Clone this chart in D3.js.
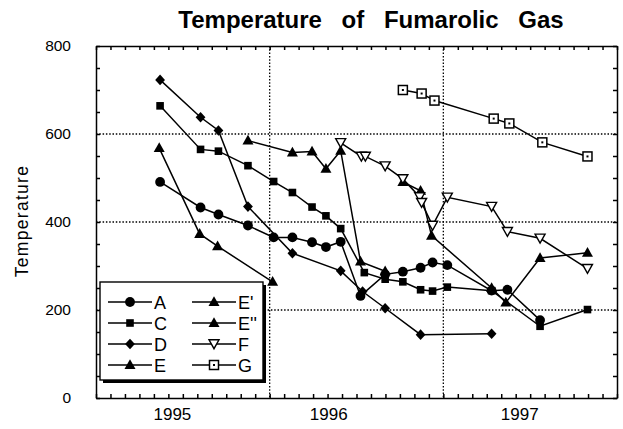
<!DOCTYPE html>
<head>
	<meta charset="utf-8" />
	<style>
		body {
			margin: 0;
			background-color: #fff;
			font-family: 'Liberation Sans', Arial, sans-serif;
		}
		.axis path,
		.axis line {
			stroke: #000;
			stroke-width: 1.5;
		}
		.grid line {
			stroke: #000;
			stroke-width: 1.3;
			stroke-dasharray: 1.5, 1.8;
		}
	</style>
</head>

<body>
	<svg id="chart" width="623" height="429"></svg>

	<script src="https://cdnjs.cloudflare.com/ajax/libs/d3/7.8.5/d3.min.js"></script>
	<script>
		// series values: [decimal year, temperature]
		const seriesA = [
			[1995.369, 491], [1995.602, 433], [1995.705, 417], [1995.875, 392],
			[1996.023, 365], [1996.131, 365], [1996.244, 354], [1996.324, 343],
			[1996.409, 355], [1996.523, 232], [1996.665, 281], [1996.767, 287],
			[1996.869, 296], [1996.938, 308], [1997.023, 302], [1997.278, 244],
			[1997.369, 246], [1997.557, 177],
		];
		const seriesC = [
			[1995.369, 664], [1995.602, 565], [1995.705, 561], [1995.875, 528],
			[1996.023, 492], [1996.131, 467], [1996.244, 434], [1996.324, 414],
			[1996.409, 385], [1996.545, 285], [1996.665, 270], [1996.767, 264],
			[1996.869, 246], [1996.938, 243], [1997.023, 252], [1997.278, 244],
			[1997.557, 163], [1997.83, 201],
		];
		const seriesD = [
			[1995.369, 723], [1995.602, 638], [1995.705, 608], [1995.875, 435],
			[1996.131, 329], [1996.409, 289], [1996.535, 242], [1996.665, 204],
			[1996.869, 144], [1997.278, 146],
		];
		const seriesE = [
			[1995.364, 568], [1995.597, 373], [1995.7, 345], [1996.017, 264],
		];
		const seriesE1 = [
			[1995.875, 585], [1996.131, 558], [1996.244, 560], [1996.324, 521],
			[1996.409, 562], [1996.523, 310], [1996.665, 288],
		];
		const seriesE2 = [
			[1996.767, 491], [1996.869, 471], [1996.932, 369], [1997.278, 250],
			[1997.36, 217], [1997.557, 318], [1997.83, 330],
		];
		const seriesF = [
			[1996.409, 580], [1996.528, 549], [1996.551, 549], [1996.665, 527],
			[1996.767, 498], [1996.864, 457], [1996.875, 444], [1996.938, 392],
			[1997.023, 456], [1997.278, 435], [1997.369, 378], [1997.557, 363],
			[1997.83, 294],
		];
		const seriesG = [
			[1996.767, 700], [1996.875, 692], [1996.949, 676], [1997.29, 635],
			[1997.38, 624], [1997.57, 581], [1997.83, 549],
		];

		const names = ['A', 'C', 'D', 'E', "E'", "E''", 'F', 'G'];
		const values = [seriesA, seriesC, seriesD, seriesE, seriesE1, seriesE2, seriesF, seriesG];
		const shapes = ['circle', 'square', 'diamond', 'triangle', 'triangle', 'triangle', 'down', 'box'];

		const yearLabels = ['1995', '1996', '1997'];
		const yearLabelAt = [1995.44, 1996.34, 1997.44];
		const yTicks = [0, 200, 400, 600, 800];

		const margin = { top: 46, right: 6, bottom: 31, left: 96 };
		const width = 623 - margin.left - margin.right;
		const height = 429 - margin.top - margin.bottom;

		const x = d3.scaleLinear().domain([1995, 1998]).range([0, width]);
		const y = d3.scaleLinear().domain([0, 800]).range([height, 0]);

		const svg = d3.select('#chart');
		const g = svg.append('g').attr('transform', `translate(${margin.left},${margin.top})`);

		// dotted grid
		const grid = g.append('g').attr('class', 'grid');
		grid.selectAll('.gy')
			.data([200, 400, 600])
			.join('line')
			.attr('x1', 0)
			.attr('x2', width)
			.attr('y1', d => y(d))
			.attr('y2', d => y(d));
		grid.selectAll('.gx')
			.data([1996, 1997])
			.join('line')
			.attr('class', 'gx')
			.attr('x1', d => x(d))
			.attr('x2', d => x(d))
			.attr('y1', 0)
			.attr('y2', height);

		// frame with inward ticks
		const months = d3.range(0, 37).map(i => 1995 + i / 12);
		const fifties = d3.range(0, 801, 50);

		g.append('g')
			.attr('class', 'axis')
			.attr('transform', `translate(0,${height})`)
			.call(d3.axisBottom(x).tickValues(months).tickSize(-4).tickSizeOuter(0).tickFormat(''));
		g.append('g')
			.attr('class', 'axis')
			.call(d3.axisTop(x).tickValues(months).tickSize(-4).tickSizeOuter(0).tickFormat(''));
		g.append('g')
			.attr('class', 'axis')
			.attr('transform', `translate(${width},0)`)
			.call(d3.axisRight(y).tickValues(fifties).tickSize(-4).tickSizeOuter(0).tickFormat(''));
		const yAxis = g.append('g')
			.attr('class', 'axis')
			.call(
				d3.axisLeft(y)
					.tickValues(fifties)
					.tickSize(-4)
					.tickSizeOuter(0)
					.tickPadding(25)
					.tickFormat(d => (yTicks.includes(d) ? d : ''))
			);
		yAxis.selectAll('text')
			.attr('font-family', "'Liberation Sans', Arial, sans-serif")
			.attr('font-size', 15.5)
			.attr('fill', '#000');

		g.selectAll('.xlab')
			.data(yearLabels)
			.join('text')
			.attr('class', 'xlab')
			.attr('x', (d, i) => x(yearLabelAt[i]))
			.attr('y', height + 22)
			.attr('text-anchor', 'middle')
			.attr('font-size', 17)
			.text(d => d);

		// titles
		svg.append('text')
			.attr('x', 371)
			.attr('y', 28)
			.attr('text-anchor', 'middle')
			.attr('font-size', 24)
			.attr('font-weight', 'bold')
			.attr('word-spacing', 13)
			.text('Temperature of Fumarolic Gas');

		svg.append('text')
			.attr('transform', 'translate(28,221) rotate(-90)')
			.attr('text-anchor', 'middle')
			.attr('font-size', 17.5)
			.attr('letter-spacing', 1.3)
			.text('Temperature');

		// marker drawing
		function drawMarker(sel, shape) {
			if (shape === 'circle') {
				sel.append('circle').attr('r', 4.9).attr('fill', '#000');
			} else if (shape === 'square') {
				sel.append('rect').attr('x', -3.8).attr('y', -3.8).attr('width', 7.6).attr('height', 7.6).attr('fill', '#000');
			} else if (shape === 'diamond') {
				sel.append('path').attr('d', 'M0,-5.3L4.9,0L0,5.3L-4.9,0Z').attr('fill', '#000');
			} else if (shape === 'triangle') {
				sel.append('path').attr('d', 'M0,-5.8L5.5,4L-5.5,4Z').attr('fill', '#000');
			} else if (shape === 'down') {
				sel.append('path')
					.attr('d', 'M-5,-4.2L5,-4.2L0,4.7Z')
					.attr('fill', '#fff')
					.attr('stroke', '#000')
					.attr('stroke-width', 1.4);
			} else if (shape === 'box') {
				sel.append('rect')
					.attr('x', -4.5).attr('y', -4.5).attr('width', 9).attr('height', 9)
					.attr('fill', '#fff')
					.attr('stroke', '#000')
					.attr('stroke-width', 1.5);
				sel.append('rect').attr('x', -1).attr('y', -1).attr('width', 2).attr('height', 2).attr('fill', '#000');
			}
		}

		const line = d3.line().x(d => x(d[0])).y(d => y(d[1]));

		values.forEach(data => {
			g.append('path')
				.datum(data)
				.attr('fill', 'none')
				.attr('stroke', '#000')
				.attr('stroke-width', 1.5)
				.attr('d', line);
		});
		values.forEach((data, i) => {
			g.selectAll(null)
				.data(data)
				.join('g')
				.attr('transform', d => `translate(${x(d[0])},${y(d[1])})`)
				.each(function () {
					drawMarker(d3.select(this), shapes[i]);
				});
		});

		// legend
		const legend = svg.append('g').attr('transform', 'translate(100,282)');
		legend.append('rect').attr('x', 3).attr('y', 3).attr('width', 163).attr('height', 98).attr('fill', '#000');
		legend.append('rect')
			.attr('width', 163)
			.attr('height', 98)
			.attr('fill', '#fff')
			.attr('stroke', '#000')
			.attr('stroke-width', 1.4);

		names.forEach((name, i) => {
			const col = Math.floor(i / 4);
			const row = i % 4;
			const item = legend.append('g')
				.attr('transform', `translate(${8 + col * 84},${20 + row * 21})`);
			item.append('line')
				.attr('x1', 0)
				.attr('x2', 44)
				.attr('stroke', '#000')
				.attr('stroke-width', 1.5);
			drawMarker(item.append('g').attr('transform', 'translate(22,0)'), shapes[i]);
			item.append('text')
				.attr('x', 46)
				.attr('y', 6.5)
				.attr('font-size', 18)
				.text(name);
		});
	</script>
</body>
